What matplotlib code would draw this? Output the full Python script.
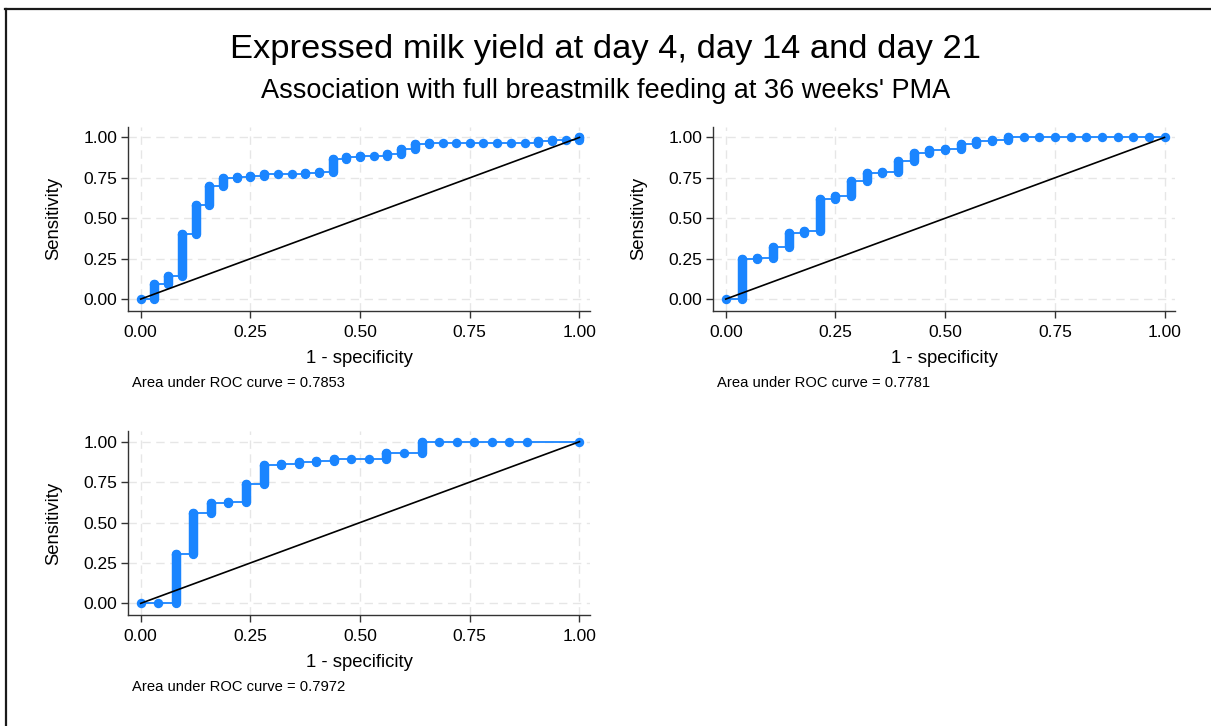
import matplotlib
matplotlib.use('Agg')
import matplotlib.pyplot as plt
from matplotlib.lines import Line2D

plt.rcParams['font.family'] = ['Liberation Sans', 'DejaVu Sans']

# 1. data
title = 'Expressed milk yield at day 4, day 14 and day 21'
subtitle = "Association with full breastmilk feeding at 36 weeks' PMA"

# day 4
fpr_d4 = [0, .031, .062, .094, .125, .156, .188, .219, .250, .281, .312,
          .344, .375, .406, .438, .469, .500, .531, .562, .594, .625, .656,
          .688, .719, .750, .781, .812, .844, .875, .906, .938, .969, 1.0]
tpr_d4 = [0, .095, .145, .40, .585, .70, .75, .757, .762, .771, .771,
          .771, .779, .788, .868, .880, .887, .887, .895, .93, .962, .967,
          .967, .967, .967, .967, .967, .967, .967, .975, .983, .983, 1.0]
auc_d4 = 0.7853

# day 14
fpr_d14 = [0, .036, .071, .107, .143, .179, .214, .250, .286, .321, .357,
           .393, .429, .464, .500, .536, .571, .607, .643, .679, .714, .750,
           .786, .821, .857, .893, .929, .964, 1.0]
tpr_d14 = [0, .248, .252, .32, .408, .423, .62, .635, .728, .78, .786,
           .856, .903, .92, .926, .959, .977, .983, 1.0, 1.0, 1.0, 1.0,
           1.0, 1.0, 1.0, 1.0, 1.0, 1.0, 1.0]
auc_d14 = 0.7781

# day 21
fpr_d21 = [0, .04, .08, .12, .16, .20, .24, .28, .32, .36, .40, .44, .48,
           .52, .56, .60, .64, .68, .72, .76, .80, .84, .88, 1.0]
tpr_d21 = [0, 0.0, .305, .561, .622, .625, .737, .857, .861, .872, .878,
           .892, .896, .896, .928, .932, 1.0, 1.0, 1.0, 1.0, 1.0, 1.0, 1.0, 1.0]
auc_d21 = 0.7972

ref_line = [0, 1]
ticks = [0, 0.25, 0.5, 0.75, 1.0]
tick_labels = ['0.00', '0.25', '0.50', '0.75', '1.00']

blue = '#1a85ff'

# 2. figure
fig = plt.figure(figsize=(12.11, 7.26), dpi=100)

# frame (screenshot border on top / left)
fig.add_artist(Line2D([0.004, 1.0], [0.987, 0.987], transform=fig.transFigure, color='#1a1a1a', lw=1.6))
fig.add_artist(Line2D([0.005, 0.005], [0.0, 0.987], transform=fig.transFigure, color='#1a1a1a', lw=1.6))

fig.text(0.5, 0.9205, title, ha='center', va='baseline', fontsize=24.8)
fig.text(0.5, 0.8646, subtitle, ha='center', va='baseline', fontsize=19.5)

panels = [
    ([0.1057, 0.5720, 0.3815, 0.2534], fpr_d4, tpr_d4, auc_d4),
    ([0.5888, 0.5720, 0.3815, 0.2534], fpr_d14, tpr_d14, auc_d14),
    ([0.1057, 0.1529, 0.3815, 0.2534], fpr_d21, tpr_d21, auc_d21),
]

for rect, fpr, tpr, auc in panels:
    ax = fig.add_axes(rect)

    # vertical runs of stacked points
    bars = ax.vlines(fpr[1:], tpr[:-1], tpr[1:], color=blue, lw=6.8, zorder=3)
    bars.set_capstyle('round')
    ax.step(fpr, tpr, where='post', color=blue, lw=1.3, zorder=2)
    ax.plot(fpr, tpr, 'o', color=blue, ms=6.8, mew=0, zorder=3)
    # reference line
    ax.plot(ref_line, ref_line, color='black', lw=1.2, zorder=4)

    ax.set_xlim(-0.029, 1.024)
    ax.set_ylim(-0.072, 1.066)
    ax.set_xticks(ticks)
    ax.set_xticklabels(tick_labels)
    ax.set_yticks(ticks)
    ax.set_yticklabels(tick_labels)
    ax.tick_params(labelsize=12.5, length=5, width=1, color='#333333', pad=2.5)
    ax.tick_params(axis='x', pad=5)

    ax.grid(True, color='#e6e6e6', ls=(0, (6, 4)), lw=1)
    ax.set_axisbelow(True)
    for s in ['top', 'right']:
        ax.spines[s].set_visible(False)
    for s in ['left', 'bottom']:
        ax.spines[s].set_color('#333333')
        ax.spines[s].set_linewidth(1)

    ax.set_xlabel('1 - specificity', fontsize=13.3, va='baseline')
    ax.xaxis.set_label_coords(0.5, -0.283)
    ax.set_ylabel('Sensitivity', fontsize=13.3, va='center')
    ax.yaxis.set_label_coords(-0.160, 0.5)

    ax.text(0.0087, -0.413, 'Area under ROC curve = %.4f' % auc,
            transform=ax.transAxes, ha='left', va='baseline', fontsize=10.6)

fig.savefig('out.png', dpi=100)
